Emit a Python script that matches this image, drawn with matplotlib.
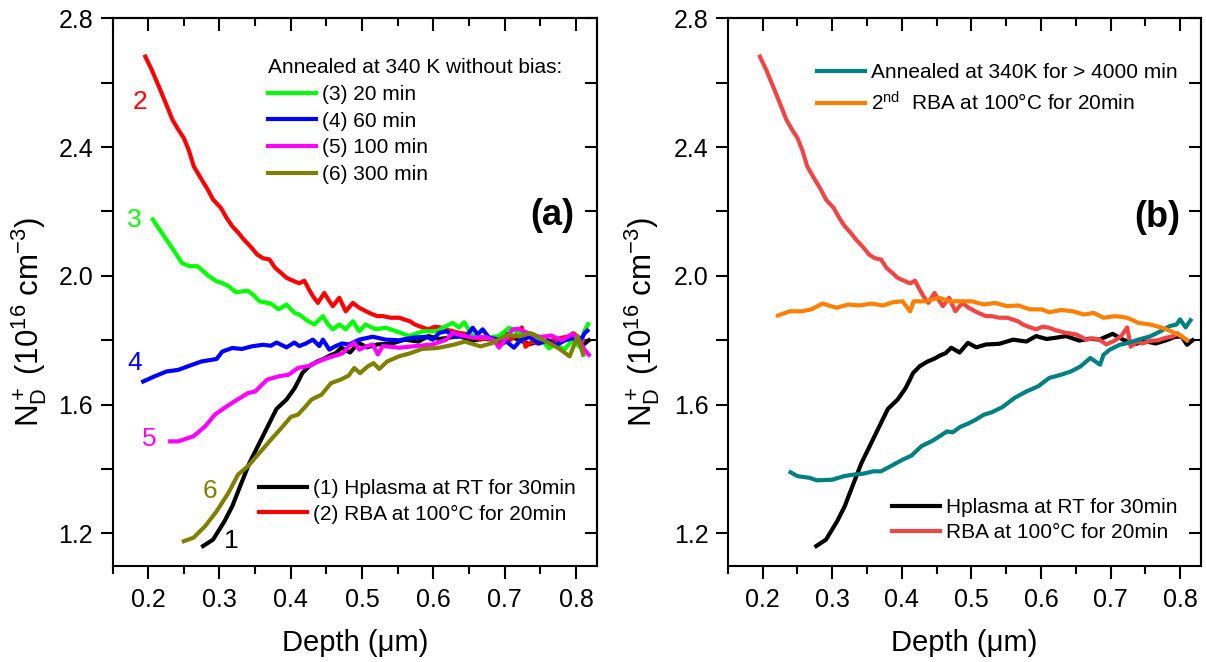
import matplotlib
matplotlib.use('Agg')
import matplotlib.pyplot as plt
from matplotlib.ticker import MultipleLocator

plt.rcParams['font.family'] = ['Liberation Sans', 'DejaVu Sans']
plt.rcParams['mathtext.fontset'] = 'custom'
plt.rcParams['mathtext.rm'] = 'Liberation Sans'
plt.rcParams['mathtext.it'] = 'Liberation Sans:italic'
plt.rcParams['mathtext.bf'] = 'Liberation Sans:bold'

# ---- data (depth in um, N_D+ in 1e16 cm^-3) ----
# (1) Hplasma at RT for 30min
x1 = [0.277, 0.291, 0.307, 0.318, 0.329, 0.342, 0.356, 0.370, 0.380, 0.394, 0.405, 0.411,
      0.416, 0.426, 0.437, 0.447, 0.455, 0.463, 0.471, 0.483, 0.495, 0.507, 0.521, 0.540,
      0.560, 0.579, 0.593, 0.608, 0.622, 0.636, 0.655, 0.670, 0.684, 0.703, 0.718, 0.735,
      0.750, 0.765, 0.780, 0.792, 0.802, 0.810, 0.818]
y1 = [1.161, 1.181, 1.238, 1.285, 1.347, 1.419, 1.481, 1.543, 1.587, 1.616, 1.650, 1.675,
      1.698, 1.720, 1.734, 1.743, 1.753, 1.760, 1.777, 1.762, 1.792, 1.778, 1.787, 1.789,
      1.802, 1.796, 1.813, 1.804, 1.808, 1.813, 1.799, 1.805, 1.802, 1.820, 1.802, 1.788,
      1.797, 1.790, 1.800, 1.810, 1.812, 1.786, 1.800]

# (2) RBA at 100C for 20min
x2 = [0.196, 0.205, 0.215, 0.224, 0.234, 0.242, 0.250, 0.257, 0.264, 0.275, 0.283, 0.291,
      0.302, 0.310, 0.318, 0.326, 0.334, 0.344, 0.353, 0.361, 0.370, 0.378, 0.386, 0.394,
      0.405, 0.412, 0.419, 0.425, 0.431, 0.438, 0.447, 0.453, 0.459, 0.468, 0.477, 0.487,
      0.496, 0.503, 0.510, 0.521, 0.529, 0.540, 0.552, 0.560, 0.567, 0.574, 0.582, 0.593,
      0.602, 0.612, 0.620, 0.627, 0.636, 0.651, 0.665, 0.675, 0.684, 0.694, 0.707, 0.716,
      0.724, 0.729, 0.738, 0.746, 0.757, 0.768, 0.780, 0.790, 0.796, 0.803, 0.810]
y2 = [2.681, 2.640, 2.588, 2.540, 2.485, 2.455, 2.428, 2.390, 2.340, 2.299, 2.270, 2.237,
      2.211, 2.180, 2.154, 2.135, 2.113, 2.090, 2.066, 2.055, 2.051, 2.025, 2.010, 1.994,
      1.983, 1.977, 1.985, 1.960, 1.937, 1.916, 1.947, 1.925, 1.906, 1.932, 1.890, 1.916,
      1.901, 1.893, 1.885, 1.875, 1.875, 1.870, 1.870, 1.864, 1.859, 1.849, 1.842, 1.834,
      1.842, 1.839, 1.832, 1.828, 1.823, 1.818, 1.802, 1.806, 1.802, 1.787, 1.800, 1.815,
      1.840, 1.780, 1.795, 1.790, 1.798, 1.800, 1.808, 1.812, 1.822, 1.810, 1.800]

# (3) 20 min at 340 K
x3 = [0.2065, 0.2255, 0.237, 0.2473, 0.258, 0.269, 0.277, 0.2853, 0.296, 0.304, 0.3125,
      0.3234, 0.3397, 0.348, 0.356, 0.372, 0.383, 0.394, 0.405, 0.412, 0.421, 0.433, 0.445,
      0.452, 0.459, 0.468, 0.477, 0.487, 0.496, 0.505, 0.519, 0.533, 0.548, 0.566, 0.585,
      0.604, 0.618, 0.627, 0.636, 0.643, 0.655, 0.674, 0.692, 0.706, 0.716, 0.728, 0.740,
      0.752, 0.762, 0.772, 0.783, 0.795, 0.805, 0.812, 0.817]
y3 = [2.175, 2.113, 2.075, 2.040, 2.030, 2.030, 2.015, 1.999, 1.983, 1.978, 1.968,
      1.949, 1.954, 1.940, 1.921, 1.914, 1.896, 1.911, 1.885, 1.880, 1.864, 1.849, 1.875,
      1.850, 1.834, 1.849, 1.834, 1.859, 1.828, 1.849, 1.834, 1.839, 1.828, 1.813, 1.828,
      1.828, 1.844, 1.854, 1.839, 1.856, 1.813, 1.808, 1.813, 1.839, 1.828, 1.815, 1.820,
      1.800, 1.775, 1.790, 1.770, 1.800, 1.780, 1.830, 1.850]

# (4) 60 min at 340 K
x4 = [0.193, 0.209, 0.2255, 0.242, 0.258, 0.2745, 0.296, 0.304, 0.318, 0.3315, 0.345,
      0.361, 0.372, 0.380, 0.394, 0.405, 0.412, 0.421, 0.431, 0.440, 0.445, 0.454, 0.463,
      0.472, 0.482, 0.496, 0.515, 0.533, 0.552, 0.571, 0.590, 0.599, 0.608, 0.618, 0.632,
      0.646, 0.655, 0.662, 0.669, 0.678, 0.692, 0.703, 0.713, 0.722, 0.735, 0.748, 0.760,
      0.772, 0.785, 0.796, 0.805, 0.812, 0.816]
y4 = [1.672, 1.688, 1.703, 1.708, 1.721, 1.734, 1.742, 1.765, 1.776, 1.773, 1.781,
      1.786, 1.783, 1.793, 1.778, 1.793, 1.782, 1.790, 1.802, 1.782, 1.802, 1.771, 1.782,
      1.790, 1.787, 1.802, 1.811, 1.802, 1.800, 1.808, 1.811, 1.802, 1.823, 1.828, 1.811,
      1.813, 1.839, 1.818, 1.834, 1.808, 1.802, 1.795, 1.777, 1.800, 1.810, 1.790, 1.800,
      1.785, 1.800, 1.807, 1.795, 1.822, 1.830]

# (5) 100 min at 340 K
x5 = [0.231, 0.242, 0.2636, 0.280, 0.2935, 0.307, 0.323, 0.340, 0.350, 0.367, 0.383,
      0.397, 0.410, 0.4266, 0.435, 0.445, 0.459, 0.473, 0.482, 0.489, 0.496, 0.505, 0.515,
      0.522, 0.529, 0.552, 0.576, 0.599, 0.618, 0.627, 0.640, 0.655, 0.674, 0.685, 0.692,
      0.700, 0.711, 0.720, 0.735, 0.750, 0.765, 0.780, 0.795, 0.805, 0.812, 0.818]
y5 = [1.486, 1.486, 1.502, 1.533, 1.569, 1.590, 1.613, 1.636, 1.641, 1.678, 1.688,
      1.693, 1.714, 1.721, 1.730, 1.740, 1.750, 1.760, 1.782, 1.792, 1.771, 1.780, 1.787,
      1.756, 1.782, 1.777, 1.782, 1.787, 1.802, 1.823, 1.815, 1.808, 1.810, 1.800, 1.777,
      1.800, 1.834, 1.835, 1.820, 1.810, 1.815, 1.800, 1.820, 1.800, 1.770, 1.755]

# (6) 300 min at 340 K
x6 = [0.250, 0.2636, 0.280, 0.296, 0.3125, 0.326, 0.340, 0.356, 0.372, 0.389, 0.400,
      0.410, 0.421, 0.429, 0.443, 0.4565, 0.470, 0.481, 0.489, 0.497, 0.508, 0.516, 0.524,
      0.535, 0.5516, 0.568, 0.584, 0.606, 0.628, 0.644, 0.666, 0.682, 0.704, 0.720, 0.736,
      0.753, 0.775, 0.791, 0.802, 0.810]
y6 = [1.176, 1.187, 1.223, 1.269, 1.326, 1.383, 1.409, 1.450, 1.491, 1.533, 1.562,
      1.569, 1.595, 1.616, 1.631, 1.667, 1.678, 1.690, 1.714, 1.698, 1.719, 1.729, 1.711,
      1.734, 1.750, 1.760, 1.773, 1.776, 1.786, 1.796, 1.781, 1.791, 1.817, 1.812, 1.822,
      1.802, 1.776, 1.750, 1.812, 1.755]

# annealed at 340K for > 4000 min
xt = [0.240, 0.250, 0.267, 0.278, 0.300, 0.317, 0.331, 0.345, 0.359, 0.370, 0.384,
      0.401, 0.414, 0.428, 0.445, 0.465, 0.473, 0.484, 0.495, 0.506, 0.518, 0.529, 0.545,
      0.562, 0.579, 0.596, 0.612, 0.629, 0.643, 0.657, 0.671, 0.685, 0.690, 0.699, 0.713,
      0.724, 0.740, 0.757, 0.771, 0.785, 0.795, 0.800, 0.808, 0.815]
yt = [1.390, 1.378, 1.373, 1.365, 1.367, 1.378, 1.383, 1.386, 1.393, 1.393, 1.409,
      1.429, 1.442, 1.471, 1.489, 1.517, 1.514, 1.531, 1.541, 1.553, 1.569, 1.576, 1.593,
      1.621, 1.641, 1.657, 1.683, 1.693, 1.703, 1.719, 1.745, 1.724, 1.755, 1.771, 1.786,
      1.791, 1.802, 1.812, 1.827, 1.844, 1.849, 1.865, 1.840, 1.862]

# 2nd RBA at 100C for 20min
xo = [0.222, 0.239, 0.256, 0.270, 0.286, 0.306, 0.323, 0.339, 0.356, 0.373, 0.387,
      0.401, 0.412, 0.417, 0.434, 0.453, 0.470, 0.490, 0.501, 0.518, 0.534, 0.551, 0.568,
      0.584, 0.601, 0.612, 0.629, 0.646, 0.662, 0.676, 0.690, 0.707, 0.724, 0.740, 0.757,
      0.774, 0.785, 0.795, 0.803, 0.810]
yo = [1.877, 1.890, 1.890, 1.896, 1.914, 1.901, 1.911, 1.908, 1.914, 1.908, 1.918,
      1.921, 1.890, 1.921, 1.921, 1.932, 1.921, 1.921, 1.921, 1.911, 1.916, 1.906, 1.908,
      1.896, 1.896, 1.887, 1.894, 1.890, 1.880, 1.885, 1.870, 1.875, 1.870, 1.854, 1.849,
      1.839, 1.830, 1.820, 1.812, 1.800]

xticks = [0.2, 0.3, 0.4, 0.5, 0.6, 0.7, 0.8]
yticks = [1.2, 1.6, 2.0, 2.4, 2.8]

fig = plt.figure(figsize=(12.06, 6.62), dpi=100)
ax1 = fig.add_axes([0.0933, 0.1455, 0.4021, 0.8269])
ax2 = fig.add_axes([0.6036, 0.1455, 0.3922, 0.8269])

lw = 3
# panel (a)
h1, = ax1.plot(x1, y1, color='black', lw=lw)
h2, = ax1.plot(x2, y2, color='#ff0000', lw=lw)
h3, = ax1.plot(x3, y3, color='#00ff00', lw=lw)
h4, = ax1.plot(x4, y4, color='#0000ff', lw=lw)
h5, = ax1.plot(x5, y5, color='#ff00ff', lw=lw)
h6, = ax1.plot(x6, y6, color='#808000', lw=lw)

leg_a1 = ax1.legend([h3, h4, h5, h6], ['(3) 20 min', '(4) 60 min', '(5) 100 min', '(6) 300 min'],
                    title='Annealed at 340 K without bias:', alignment='left',
                    loc='upper left', bbox_to_anchor=(0.32, 0.927), frameon=False,
                    fontsize=15, title_fontsize=15, handlelength=2.3, handletextpad=0.3,
                    labelspacing=0.37, borderpad=0, borderaxespad=0)
ax1.add_artist(leg_a1)
ax1.legend([h1, h2], ['(1) Hplasma at RT for 30min', '(2) RBA at 100°C for 20min'],
           loc='lower left', bbox_to_anchor=(0.302, 0.077), frameon=False,
           fontsize=15, handlelength=2.3, handletextpad=0.3, labelspacing=0.3,
           borderpad=0, borderaxespad=0)

num_fs = 19
ax1.text(0.188, 2.541, '2', color='#ff0000', fontsize=num_fs, ha='center', va='center')
ax1.text(0.180, 2.175, '3', color='#00ff00', fontsize=num_fs, ha='center', va='center')
ax1.text(0.181, 1.730, '4', color='#0000ff', fontsize=num_fs, ha='center', va='center')
ax1.text(0.202, 1.492, '5', color='#ff00ff', fontsize=num_fs, ha='center', va='center')
ax1.text(0.286, 1.332, '6', color='#808000', fontsize=num_fs, ha='center', va='center')
ax1.text(0.316, 1.177, '1', color='black', fontsize=num_fs, ha='center', va='center')
ax1.text(0.767, 2.187, '(a)', fontsize=26, fontweight='bold', ha='center', va='center')

# panel (b)
g1, = ax2.plot(x1, y1, color='black', lw=lw)
g2, = ax2.plot(x2, y2, color='#f04545', lw=lw)
gt, = ax2.plot(xt, yt, color='#008080', lw=lw)
go, = ax2.plot(xo, yo, color='#ff8000', lw=lw)

leg_b1 = ax2.legend([gt, go], ['Annealed at 340K for > 4000 min', '2$^{\\mathrm{nd}}$  RBA at 100°C for 20min'],
                    loc='upper left', bbox_to_anchor=(0.188, 0.918), frameon=False,
                    fontsize=15, handlelength=2.3, handletextpad=0.3, labelspacing=0.42,
                    borderpad=0, borderaxespad=0)
ax2.add_artist(leg_b1)
ax2.legend([g1, g2], ['Hplasma at RT for 30min', 'RBA at 100°C for 20min'],
           loc='lower left', bbox_to_anchor=(0.346, 0.043), frameon=False,
           fontsize=15, handlelength=2.3, handletextpad=0.3, labelspacing=0.3,
           borderpad=0, borderaxespad=0)
ax2.text(0.767, 2.181, '(b)', fontsize=26, fontweight='bold', ha='center', va='center')

for ax, lx in ((ax1, -0.131), (ax2, -0.14)):
    ax.set_xlim(0.15, 0.83)
    ax.set_ylim(1.1, 2.8)
    ax.set_xticks(xticks)
    ax.set_xticklabels(['%.1f' % v for v in xticks])
    ax.set_yticks(yticks)
    ax.set_yticklabels(['%.1f' % v for v in yticks])
    ax.xaxis.set_minor_locator(MultipleLocator(0.05))
    ax.yaxis.set_minor_locator(MultipleLocator(0.2))
    for s in ax.spines.values():
        s.set_linewidth(1.5)
    ax.tick_params(axis='both', which='both', width=1.5, labelsize=18)
    ax.tick_params(axis='y', which='both', direction='out', length=9, pad=5)
    ax.tick_params(axis='x', which='major', direction='out', length=9, pad=7)
    ax.tick_params(axis='x', which='minor', direction='out', length=5.5)
    ax.set_xlabel('Depth (μm)', fontsize=21)
    ax.set_ylabel('N$_\\mathrm{D}^+$ (10$^{16}$ cm$^{-3}$)', fontsize=22.5)
    ax.yaxis.set_label_coords(lx, 0.445)
    ax.xaxis.set_label_coords(0.5, -0.115)

    # mirrored ticks pointing inward on top and right
    top = ax.secondary_xaxis('top')
    top.set_xticks(xticks)
    top.xaxis.set_minor_locator(MultipleLocator(0.05))
    top.tick_params(which='major', direction='in', length=9, width=1.5, labeltop=False)
    top.tick_params(which='minor', direction='in', length=5.5, width=1.5)
    top.spines['top'].set_linewidth(1.5)
    right = ax.secondary_yaxis('right')
    right.set_yticks(yticks)
    right.yaxis.set_minor_locator(MultipleLocator(0.2))
    right.tick_params(which='both', direction='in', length=9, width=1.5, labelright=False)
    right.spines['right'].set_linewidth(1.5)

fig.savefig('out.png', dpi=100)
